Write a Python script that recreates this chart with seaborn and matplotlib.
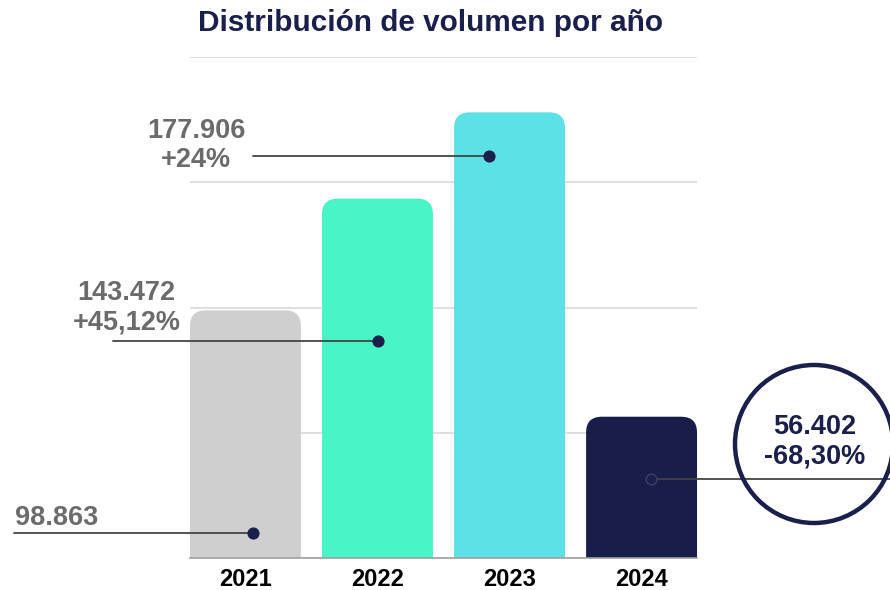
import matplotlib
matplotlib.use("Agg")
import matplotlib.pyplot as plt
import seaborn as sns
import pandas as pd
from matplotlib.patches import FancyBboxPatch, Ellipse

years = ["2021", "2022", "2023", "2024"]
volumes = [98863, 143472, 177906, 56402]
value_labels = ["98.863", "143.472\n+45,12%", "177.906\n+24%", "56.402\n-68,30%"]
colors = ["#cfcfcf", "#49f5c7", "#5ce1e6", "#181e49"]

navy = "#1a1f4b"
grey_txt = "#6b6b6b"

sns.set_style("white")
plt.rcParams["font.family"] = ["Liberation Sans", "DejaVu Sans"]

fig = plt.figure(figsize=(8.9, 5.9), dpi=100)
ax = fig.add_axes([190 / 890, 32 / 590, 507 / 890, 501 / 590])

data = pd.DataFrame({"year": years, "volume": volumes})
sns.barplot(data=data, x="year", y="volume", hue="year", palette=colors,
            legend=False, width=0.84, ax=ax)

ax.set_xlim(-0.42, 3.42)
ax.set_ylim(0, 200000)
ax.set_yticks([0, 50000, 100000, 150000, 200000])
ax.yaxis.grid(True, color="#d9d9d9", linewidth=1.2)
ax.set_axisbelow(True)
ax.tick_params(axis="y", left=False, labelleft=False)
ax.tick_params(axis="x", bottom=False, pad=3.5)
for lab in ax.get_xticklabels():
    lab.set_fontsize(17)
    lab.set_fontweight("bold")
    lab.set_color("black")
ax.set_xlabel("")
ax.set_ylabel("")
for s in ["left", "right", "top"]:
    ax.spines[s].set_visible(False)
ax.spines["bottom"].set_color("#a0a0a0")
ax.spines["bottom"].set_linewidth(1.2)

# swap square bars for rounded-top ones
for p, c in zip(list(ax.patches), colors):
    x, w, h = p.get_x(), p.get_width(), p.get_height()
    p.set_visible(False)
    r = FancyBboxPatch((x, -20000), w, h + 20000,
                       boxstyle="round,pad=0,rounding_size=0.12",
                       mutation_aspect=52000,
                       facecolor=c, edgecolor="none", zorder=2)
    ax.add_patch(r)

# leader lines: (dot x, dot y, line end x)
leaders = [(0.057, 10000, -1.75), (1.004, 86800, -1.0),
           (1.845, 160400, 0.057), (3.072, 31600, 4.9)]
for i, (dx, dy, ex) in enumerate(leaders):
    ax.plot([dx, ex], [dy, dy], color="#444444", lw=1.3, clip_on=False, zorder=3)
    ax.scatter([dx], [dy], s=60, color=navy, edgecolor=navy if i < 3 else "#3a3f66",
               linewidth=1, zorder=4, clip_on=False)

# labels
ax.text(-1.746, 16000, value_labels[0], ha="left", va="center", fontsize=19.5,
        fontweight="bold", color=grey_txt)
ax.text(-0.90, 100000, value_labels[1], ha="center", va="center", fontsize=19.5,
        fontweight="bold", color=grey_txt, linespacing=1.15, multialignment="center")
ax.text(-0.375, 164800, value_labels[2], ha="center", va="center", fontsize=19.5,
        fontweight="bold", color=grey_txt, linespacing=1.15, multialignment="center")

fig.add_artist(Ellipse((814 / 890, 1 - 444 / 590), 158 / 890, 158 / 590,
                       transform=fig.transFigure, facecolor="none",
                       edgecolor=navy, linewidth=3.2, zorder=5))
fig.text(815 / 890, 1 - 442 / 590, value_labels[3], ha="center", va="center",
         fontsize=19.5, fontweight="bold", color=navy, linespacing=1.15)

fig.text(431 / 890, 1 - 23 / 590, "Distribución de volumen por año", ha="center",
         va="center", fontsize=21.4, fontweight="bold", color=navy)

fig.savefig("out.png", dpi=100)
